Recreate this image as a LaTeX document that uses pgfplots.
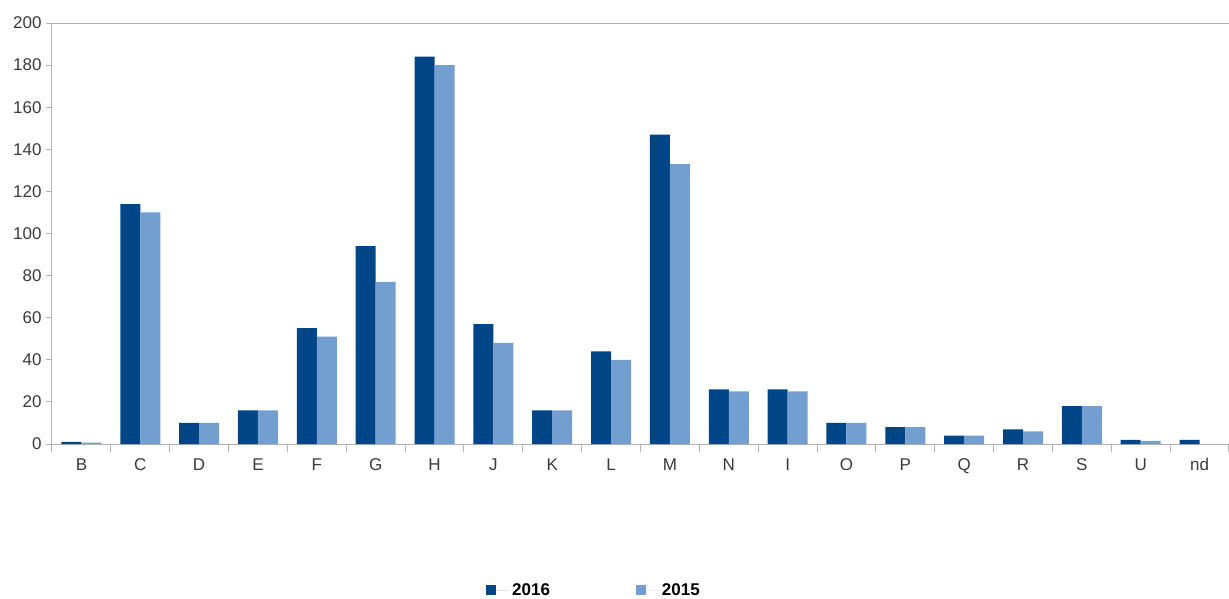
\documentclass[border=0pt]{standalone}
\usepackage{pgfplots}
\pgfplotsset{compat=1.18}
\usepackage{fontspec}
\setmainfont{Liberation Sans}
\definecolor{dark}{HTML}{004586}
\definecolor{light}{HTML}{729FCF}
\definecolor{axisgray}{HTML}{B3B3B3}
\definecolor{labelgray}{HTML}{3A3A3A}
\begin{document}
\begin{tikzpicture}
\useasboundingbox (-52pt,-154pt) rectangle (1177pt,444pt);
\begin{axis}[
  scale only axis,
  width=1177pt, height=421pt,
  ybar=0pt, bar width=0.34,
  xmin=-0.5, xmax=19.5,
  ymin=0, ymax=200,
  ytick={0,20,...,200},
  xtick={0,...,19},
  xticklabels={B,C,D,E,F,G,H,J,K,L,M,N,I,O,P,Q,R,S,U,nd},
  minor xtick={-0.5,0.5,...,19.5},
  axis x line*=bottom, axis y line*=left,
  axis line style={axisgray, line width=1pt},
  tick align=outside,
  major tick length=6pt, minor tick length=8pt,
  major x tick style={draw=none},
  minor x tick style={axisgray, line width=1pt},
  major y tick style={axisgray, line width=1pt},
  tick label style={font=\fontsize{17}{20}\selectfont, text=labelgray},
  xticklabel style={yshift=-5pt},
  yticklabel style={xshift=-1pt},
  /pgf/number format/assume math mode=true,
  legend columns=2,
  legend style={at={(0.4605,-0.347)}, anchor=center, draw=none,
    font=\fontsize{17}{20}\selectfont\bfseries, text=black,
    /tikz/every even column/.append style={column sep=84pt}},
  legend image code/.code={\fill[#1] (0pt,-5pt) rectangle (10pt,5pt);
    \path (0pt,0pt) -- (24pt,0pt);},
]
\addplot[fill=dark, draw=none] coordinates {
  (0,1) (1,114) (2,10) (3,16) (4,55) (5,94) (6,184) (7,57) (8,16) (9,44)
  (10,147) (11,26) (12,26) (13,10) (14,8) (15,4) (16,7) (17,18) (18,2) (19,2)
};
\addplot[fill=light, draw=none] coordinates {
  (0,0.6) (1,110) (2,10) (3,16) (4,51) (5,77) (6,180) (7,48) (8,16) (9,40)
  (10,133) (11,25) (12,25) (13,10) (14,8) (15,4) (16,6) (17,18) (18,1.5) (19,0)
};
\legend{2016,2015}
\draw[axisgray, line width=1pt] (rel axis cs:0,1) -- (rel axis cs:1,1);
\end{axis}
\end{tikzpicture}
\end{document}
